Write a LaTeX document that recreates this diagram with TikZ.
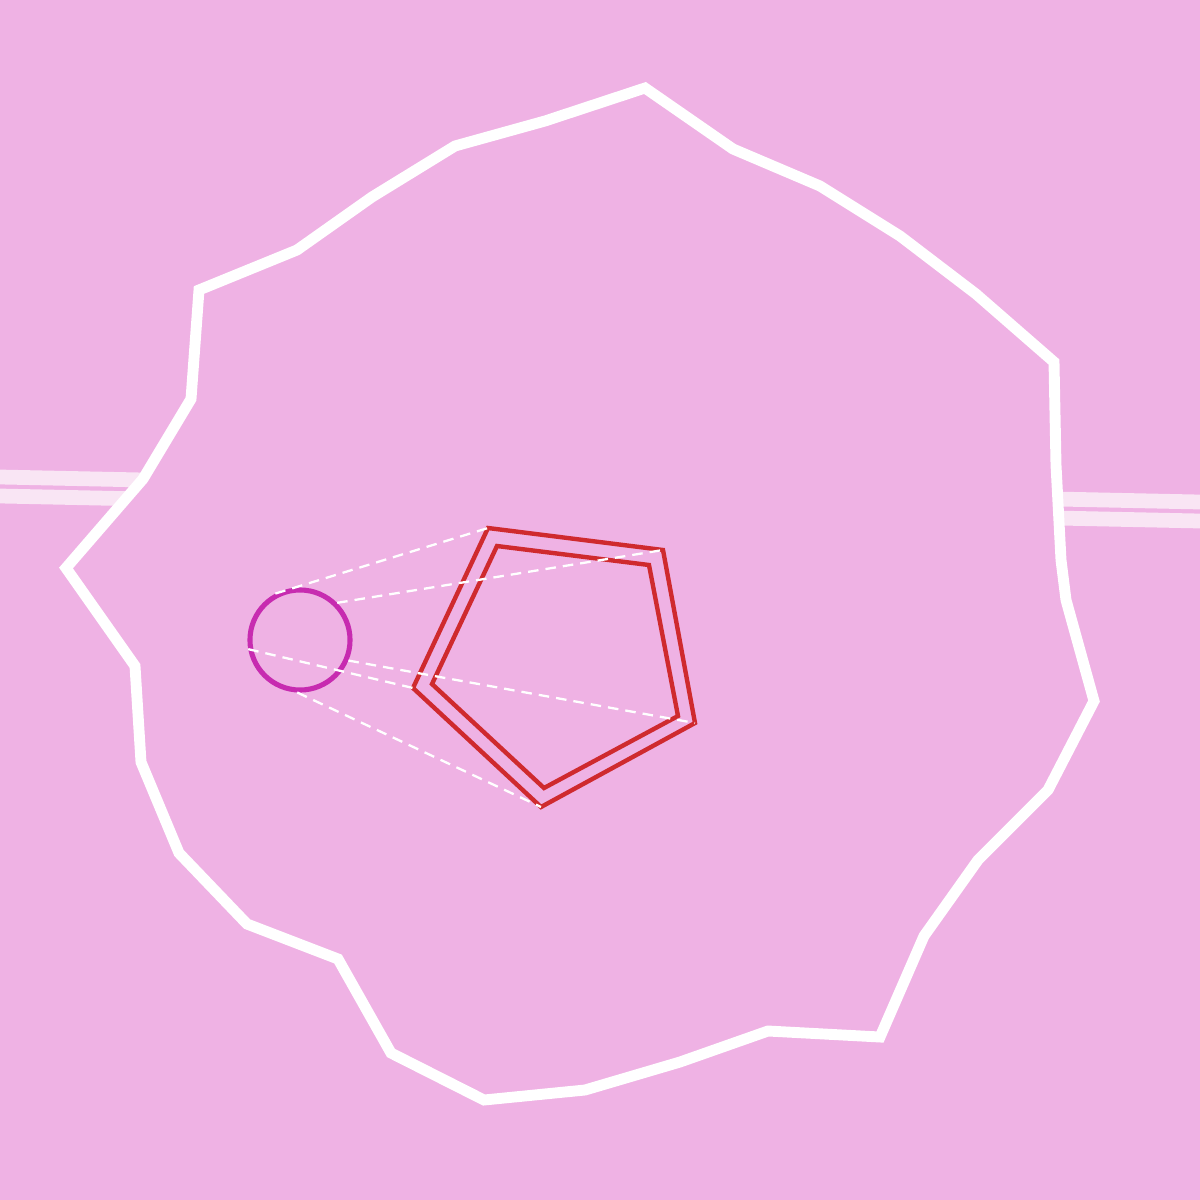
\documentclass[tikz,border=0pt]{standalone}
\usepackage{xcolor}
\usepackage{tikz}
\usetikzlibrary{calc}
\definecolor{bgPink}{HTML}{EFB2E4}
\definecolor{barPink}{HTML}{F9E5F4}
\definecolor{penRed}{HTML}{CF2A2E}
\definecolor{ringMag}{HTML}{C72BB0}
\tikzset{
  sbar/.style={draw=barPink,line width=4.2pt},
  sblob/.style={draw=white,fill=bgPink,line width=3.1pt,line join=miter},
  spent/.style={draw=penRed,line width=1.25pt,line join=miter},
  sring/.style={circle,draw=ringMag,line width=1.45pt,minimum size=1cm,inner sep=0pt},
  sray/.style={draw=white,line width=0.65pt,dash pattern=on 3pt off 2pt},
}

\begin{document}
\begin{tikzpicture}[x=0.01cm,y=-0.01cm]
\fill[bgPink] (0,0) rectangle (1200,1200);
\useasboundingbox (0,0) rectangle (1200,1200);
% bars behind the blob
\coordinate (bl1) at (0,477); \coordinate (br1) at (1200,502);
\coordinate (bl2) at (0,496); \coordinate (br2) at (1200,521);
\draw[sbar] (bl1) -- (br1);
\draw[sbar] (bl2) -- (br2);
% blob
\draw[sblob] (645,88) -- (733,149) -- (820,186) -- (900,236) -- (976,294)
  -- (1054,362) -- (1056,465) -- (1061,560) -- (1066,600) -- (1094,701)
  -- (1048,790) -- (978,860) -- (924,936) -- (880,1037) -- (768,1031)
  -- (680,1062) -- (585,1090) -- (484,1100) -- (391,1053) -- (338,959)
  -- (247,924) -- (179,853) -- (141,762) -- (135,666) -- (66,568)
  -- (143,479) -- (191,399) -- (199,290) -- (297,250) -- (372,197)
  -- (455,146) -- (545,121) -- cycle;
% pentagons
\coordinate (po1) at (488,528); \coordinate (po2) at (663,550);
\coordinate (po3) at (695,723); \coordinate (po4) at (541,807);
\coordinate (po5) at (413,688);
\coordinate (pi1) at (497,546); \coordinate (pi2) at (649,565);
\coordinate (pi3) at (678,716); \coordinate (pi4) at (544,788);
\coordinate (pi5) at (432,684);
\draw[spent] (po1) -- (po2) -- (po3) -- (po4) -- (po5) -- cycle;
\draw[spent] (pi1) -- (pi2) -- (pi3) -- (pi4) -- (pi5) -- cycle;
% ring and rays
\node[sring] (ring) at (300,640) {};
\draw[sray] (ring.118) -- (po1);
\draw[sray] (ring.45) -- (po2);
\draw[sray] (ring.-23) -- (po3);
\draw[sray] (ring.-93) -- (po4);
\draw[sray] (ring.190) -- (po5);
\end{tikzpicture}
\end{document}
